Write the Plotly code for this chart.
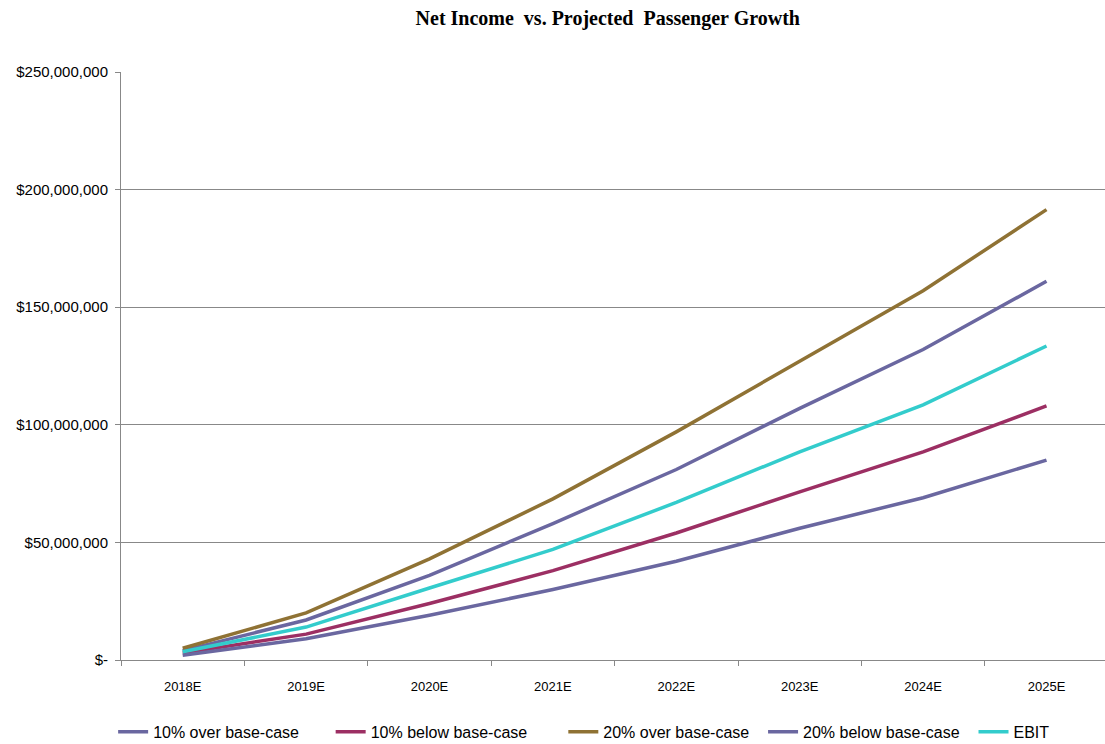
import plotly.graph_objects as go

years = ["2018E", "2019E", "2020E", "2021E", "2022E", "2023E", "2024E", "2025E"]
over10 = [4.0e6, 17e6, 36e6, 58e6, 81e6, 107e6, 132e6, 161e6]
below10 = [3.0e6, 11e6, 24e6, 38e6, 54e6, 71.5e6, 88.5e6, 108e6]
over20 = [5.0e6, 20e6, 43e6, 68.5e6, 97e6, 127e6, 157e6, 191.5e6]
below20 = [2.0e6, 9e6, 19e6, 30e6, 42e6, 56e6, 69e6, 85e6]
ebit = [3.5e6, 14e6, 30.6e6, 47e6, 67e6, 88.5e6, 108.5e6, 133.5e6]

series = [
    ("10% over base-case", over10, "#6a67a0", 6),
    ("10% below base-case", below10, "#9c2f63", 7),
    ("20% over base-case", over20, "#8f7234", 2),
    ("20% below base-case", below20, "#6a67a0", 2),
    ("EBIT", ebit, "#33cccc", 0),
]

ytickvals = [0, 50e6, 100e6, 150e6, 200e6, 250e6]
yticktext = ["$-", "$50,000,000", "$100,000,000", "$150,000,000", "$200,000,000", "$250,000,000"]

fig = go.Figure()
for name, vals, col, pad in series:
    fig.add_trace(go.Scatter(x=years, y=vals, name=name + "\u00a0" * pad, mode="lines",
                             line=dict(color=col, width=3.5)))

fig.update_layout(
    width=1105, height=744,
    margin=dict(l=121, r=0, t=72, b=84, autoexpand=False),
    paper_bgcolor="white", plot_bgcolor="white",
    title=dict(text="<b>Net Income  vs. Projected  Passenger Growth</b>",
               x=0.55, xanchor="center", y=0.976, yanchor="middle",
               font=dict(family="Liberation Serif", size=20, color="black")),
    font=dict(family="Liberation Sans", size=13, color="black"),
    legend=dict(orientation="h", x=-0.008, xanchor="left", y=-0.122, yanchor="middle",
                font=dict(size=16), traceorder="normal"),
    showlegend=True,
)
fig.update_xaxes(type="category", range=[-0.5, 7.474], tickson="boundaries",
                 ticks="outside", ticklen=5, tickcolor="#888", showline=True,
                 linecolor="#888", linewidth=1, showgrid=False, zeroline=False,
                 tickfont=dict(size=13), ticklabelstandoff=14)
fig.update_yaxes(range=[0, 250e6], tickvals=ytickvals, ticktext=yticktext,
                 ticks="outside", ticklen=5, tickcolor="#888", showline=True,
                 linecolor="#888", linewidth=1, showgrid=True, gridcolor="#888",
                 gridwidth=1, zeroline=False, tickfont=dict(size=15),
                 ticklabelstandoff=4)

fig.write_html("out.html")
